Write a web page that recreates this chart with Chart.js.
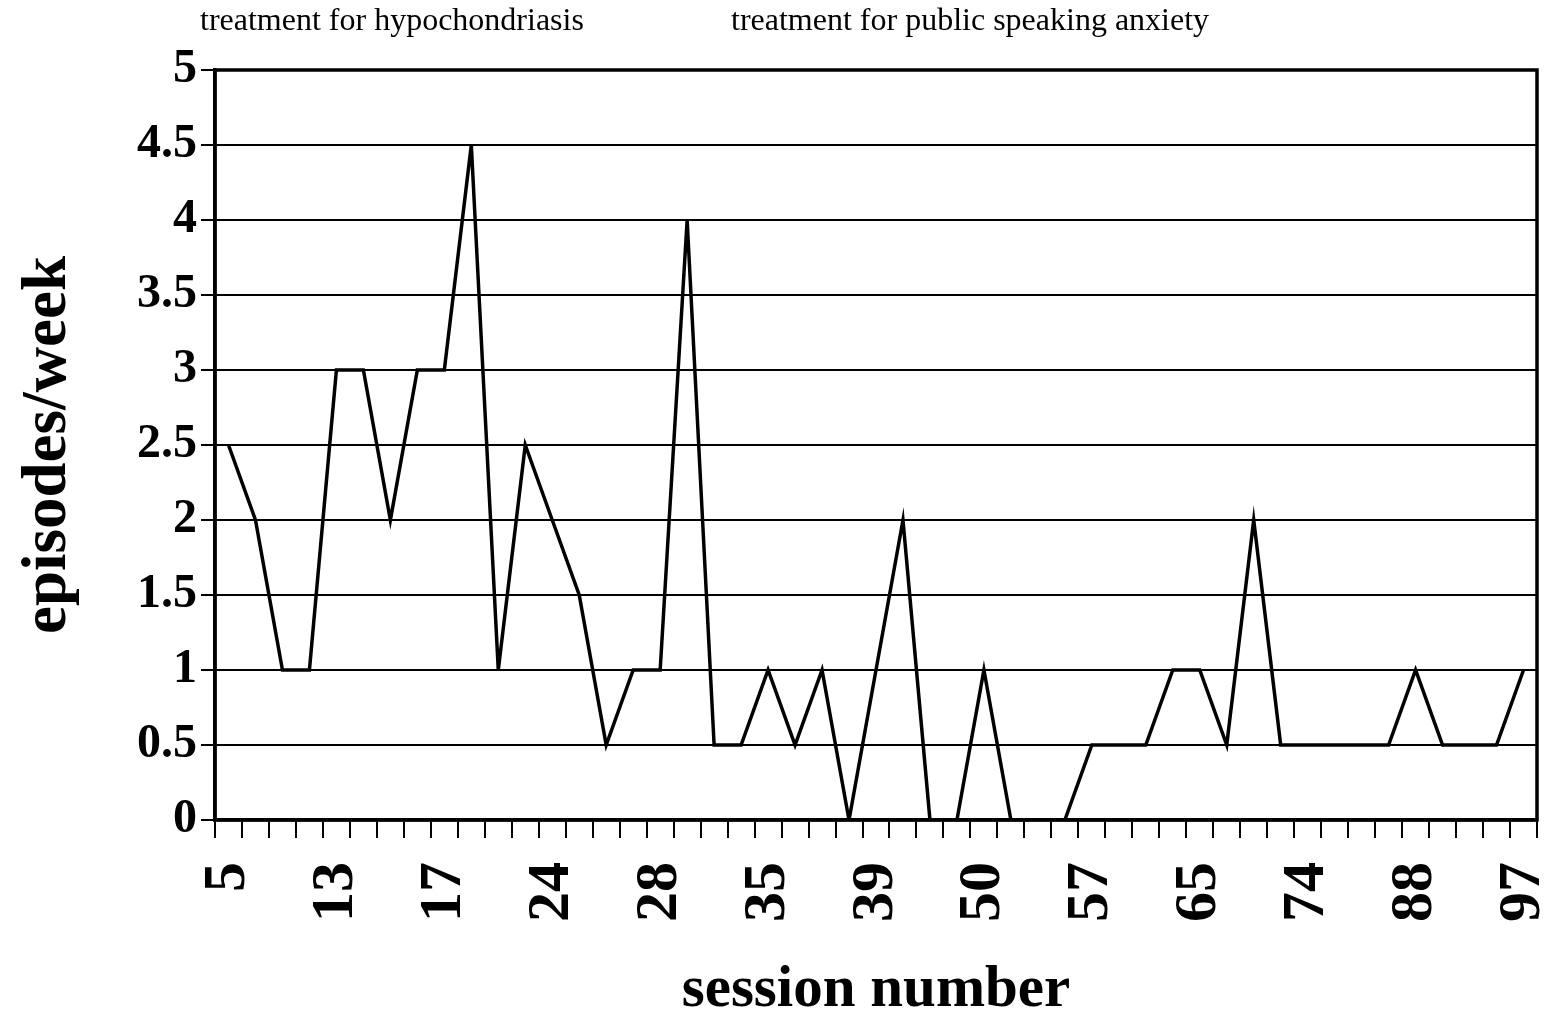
<!DOCTYPE html>
<html>
<head>
<meta charset="utf-8">
<title>episodes/week by session</title>
<script src="https://cdn.jsdelivr.net/npm/chart.js@4/dist/chart.umd.min.js"></script>
<style>
  body { margin: 0; background: #fff; }
</style>
</head>
<body>
<canvas id="lineChart" width="1549" height="1014"></canvas>
<script>
// session numbers printed under the axis (every 4th session shown)
var shownSessions = [5, 13, 17, 24, 28, 35, 39, 50, 57, 65, 74, 88, 97];
// episodes per week, one value per session column
var episodes = [2.5, 2, 1, 1, 3, 3, 2, 3, 3, 4.5,
                1, 2.5, 2, 1.5, 0.5, 1, 1, 4, 0.5, 0.5,
                1, 0.5, 1, 0, 1, 2, 0, 0, 1, 0,
                0, 0, 0.5, 0.5, 0.5, 1, 1, 0.5, 2, 0.5,
                0.5, 0.5, 0.5, 0.5, 1, 0.5, 0.5, 0.5, 1];
var phaseNotes = ["treatment for hypochondriasis", "treatment for public speaking anxiety"];

var categories = episodes.map(function (v, i) {
    return i % 4 === 0 ? String(shownSessions[i / 4]) : '';
});

var serif = "'Liberation Serif', 'Times New Roman', serif";

// frame around the plot + the two phase notes on top
var framePlugin = {
    id: 'frame',
    afterDraw: function (chart) {
        var ctx = chart.ctx, a = chart.chartArea;
        ctx.save();
        ctx.strokeStyle = '#000';
        ctx.lineWidth = 3.5;
        ctx.strokeRect(a.left, a.top, a.right - a.left, a.bottom - a.top);
        ctx.fillStyle = '#000';
        ctx.font = "32px " + serif;
        ctx.textBaseline = 'middle';
        ctx.textAlign = 'left';
        ctx.fillText(phaseNotes[0], 200, 22);
        ctx.fillText(phaseNotes[1], 731, 22);
        ctx.restore();
    }
};

var ctxL = document.getElementById("lineChart").getContext('2d');
var myLineChart = new Chart(ctxL, {
    type: 'line',
    data: {
        labels: categories,
        datasets: [{
                data: episodes,
                borderColor: '#000',
                borderWidth: 3.5,
                pointRadius: 0,
                tension: 0,
                fill: false
            }]
    },
    options: {
        responsive: false,
        animation: false,
        layout: { padding: { left: 0, right: 12, top: 70, bottom: 0 } },
        plugins: { legend: { display: false }, tooltip: { enabled: false } },
        scales: {
            x: {
                type: 'category',
                offset: true,
                grid: { offset: true, drawOnChartArea: false, color: '#000', lineWidth: 2, tickLength: 18 },
                border: { color: '#000', width: 3.5 },
                ticks: {
                    autoSkip: false,
                    minRotation: 90,
                    maxRotation: 90,
                    padding: 24,
                    color: '#000',
                    font: { family: serif, size: 60, weight: 'bold' }
                },
                title: {
                    display: true,
                    text: 'session number',
                    color: '#000',
                    font: { family: serif, size: 59, weight: 'bold', lineHeight: 0.8 },
                    padding: { top: 0, bottom: 0 }
                },
                afterFit: function (scale) {
                    scale.height = 194;
                    scale.paddingLeft = 0;
                    scale.paddingRight = 0;
                }
            },
            y: {
                min: 0,
                max: 5,
                ticks: {
                    stepSize: 0.5,
                    padding: 4,
                    color: '#000',
                    font: { family: serif, size: 48, weight: 'bold' },
                    callback: function (value) { return String(value); }
                },
                grid: { color: '#000', lineWidth: 2, tickLength: 14 },
                border: { color: '#000', width: 3.5 },
                title: {
                    display: true,
                    text: 'episodes/week',
                    color: '#000',
                    font: { family: serif, size: 63, weight: 'bold', lineHeight: 1 },
                    padding: { top: 17, bottom: 0 }
                },
                afterFit: function (scale) { scale.width = 215; }
            }
        }
    },
    plugins: [framePlugin]
});
</script>
</body>
</html>
